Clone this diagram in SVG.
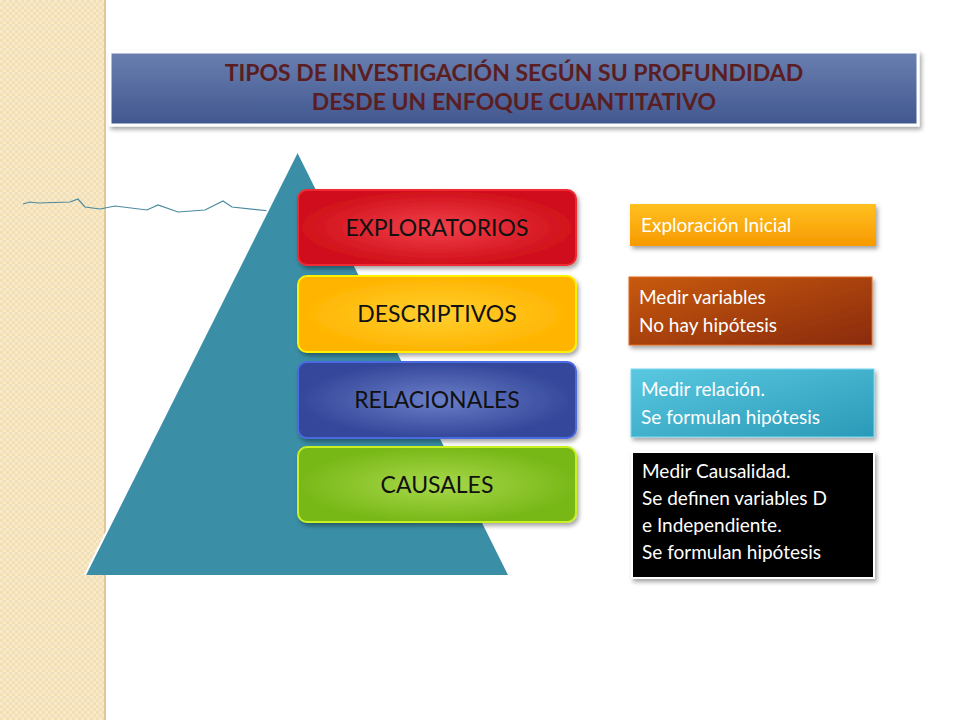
<svg xmlns="http://www.w3.org/2000/svg" width="960" height="720" viewBox="0 0 960 720">
<defs>
<pattern id="chk" width="6" height="6" patternUnits="userSpaceOnUse"><rect width="6" height="6" fill="#f3dfb5"/><rect width="3" height="3" fill="#f8e9c8"/><rect x="3" y="3" width="3" height="3" fill="#f8e9c8"/></pattern>
<linearGradient id="tg" x1="0" y1="0" x2="0" y2="1"><stop offset="0" stop-color="#6a7fb0"/><stop offset="1" stop-color="#41578f"/></linearGradient>
<radialGradient id="red"><stop offset="0" stop-color="#f0404a"/><stop offset="1" stop-color="#d0101a"/></radialGradient>
<radialGradient id="yel"><stop offset="0" stop-color="#ffd030"/><stop offset="1" stop-color="#ffb400"/></radialGradient>
<radialGradient id="blu"><stop offset="0" stop-color="#6a7ec8"/><stop offset="1" stop-color="#34479a"/></radialGradient>
<radialGradient id="grn"><stop offset="0" stop-color="#a8d84a"/><stop offset="1" stop-color="#78b818"/></radialGradient>
<linearGradient id="org" x1="0" y1="0" x2="0" y2="1"><stop offset="0" stop-color="#ffc020"/><stop offset="1" stop-color="#f79a00"/></linearGradient>
<linearGradient id="brn" x1="0" y1="0" x2="1" y2="1"><stop offset="0" stop-color="#c85a10"/><stop offset="1" stop-color="#8a2a08"/></linearGradient>
<linearGradient id="cyn" x1="0" y1="0" x2="1" y2="1"><stop offset="0" stop-color="#5ac8e0"/><stop offset="1" stop-color="#2a9ab8"/></linearGradient>
<filter id="sh" x="-10%" y="-10%" width="120%" height="130%"><feDropShadow dx="2" dy="3" stdDeviation="2" flood-opacity="0.35"/></filter>
</defs>
<style>
.bt{font-family:"Lato","Liberation Sans",sans-serif;font-size:23px;fill:#111;text-anchor:middle}
.rt{font-family:"Lato","Liberation Sans",sans-serif;font-size:19px;fill:#fff}
</style>
<rect width="960" height="720" fill="#fff"/>
<rect width="105" height="720" fill="url(#chk)"/>
<line x1="105" y1="0" x2="105" y2="720" stroke="#e0c898" stroke-width="2"/>
<g id="title"><rect x="110" y="52" width="808" height="73" fill="url(#tg)" stroke="#fff" stroke-width="3" filter="url(#sh)"/>
<text font-family="Lato,'Liberation Sans',sans-serif" font-weight="bold" font-size="23" fill="#5a1e22" text-anchor="middle"><tspan x="514" y="81">TIPOS DE INVESTIGACIÓN SEGÚN SU PROFUNDIDAD</tspan><tspan x="514" y="110">DESDE UN ENFOQUE CUANTITATIVO</tspan></text></g>
<path d="M23 204 L30 202 L38 203 L70 202 L78 199 L85 207 L100 209 L115 206 L147 210 L158 205 L178 212 L205 210 L223 201 L232 207 L270 211" fill="none" stroke="#4a8aa0" stroke-width="1.2"/>
<g id="pyramid"><polygon points="297,152 508,575 85,575" fill="#3a8ea6"/><line x1="297" y1="152" x2="85" y2="575" stroke="#fff" stroke-width="2"/></g>
<g id="n1"><rect x="298" y="190" width="278" height="75" rx="9" fill="url(#red)" stroke="#f02a30" stroke-width="2" filter="url(#sh)"/><text class="bt" x="437" y="236">EXPLORATORIOS</text></g>
<g id="n2"><rect x="298" y="276" width="278" height="76" rx="9" fill="url(#yel)" stroke="#fff000" stroke-width="2" filter="url(#sh)"/><text class="bt" x="437" y="322">DESCRIPTIVOS</text></g>
<g id="n3"><rect x="298" y="362" width="278" height="76" rx="9" fill="url(#blu)" stroke="#4a6ae0" stroke-width="2" filter="url(#sh)"/><text class="bt" x="437" y="408">RELACIONALES</text></g>
<g id="n4"><rect x="298" y="447" width="278" height="75" rx="9" fill="url(#grn)" stroke="#c8f020" stroke-width="2" filter="url(#sh)"/><text class="bt" x="437" y="493">CAUSALES</text></g>
<g id="d1"><rect x="630" y="204" width="246" height="42" fill="url(#org)" filter="url(#sh)"/><text class="rt" x="641" y="232">Exploración Inicial</text></g>
<g id="d2"><rect x="629" y="277" width="243" height="68" fill="url(#brn)" stroke="#e06a20" stroke-width="1" filter="url(#sh)"/><text class="rt"><tspan x="639" y="304">Medir variables</tspan><tspan x="639" y="332">No hay hipótesis</tspan></text></g>
<g id="d3"><rect x="631" y="369" width="243" height="68" fill="url(#cyn)" stroke="#7ad8f0" stroke-width="1" filter="url(#sh)"/><text class="rt"><tspan x="641" y="396">Medir relación.</tspan><tspan x="641" y="424">Se formulan hipótesis</tspan></text></g>
<g id="d4"><rect x="632" y="452" width="242" height="126" fill="#000" stroke="#fff" stroke-width="2" filter="url(#sh)"/><text class="rt"><tspan x="642" y="478">Medir Causalidad.</tspan><tspan x="642" y="505">Se definen variables D</tspan><tspan x="642" y="532">e Independiente.</tspan><tspan x="642" y="559">Se formulan hipótesis</tspan></text></g>
<g id="connectors"/>
</svg>
